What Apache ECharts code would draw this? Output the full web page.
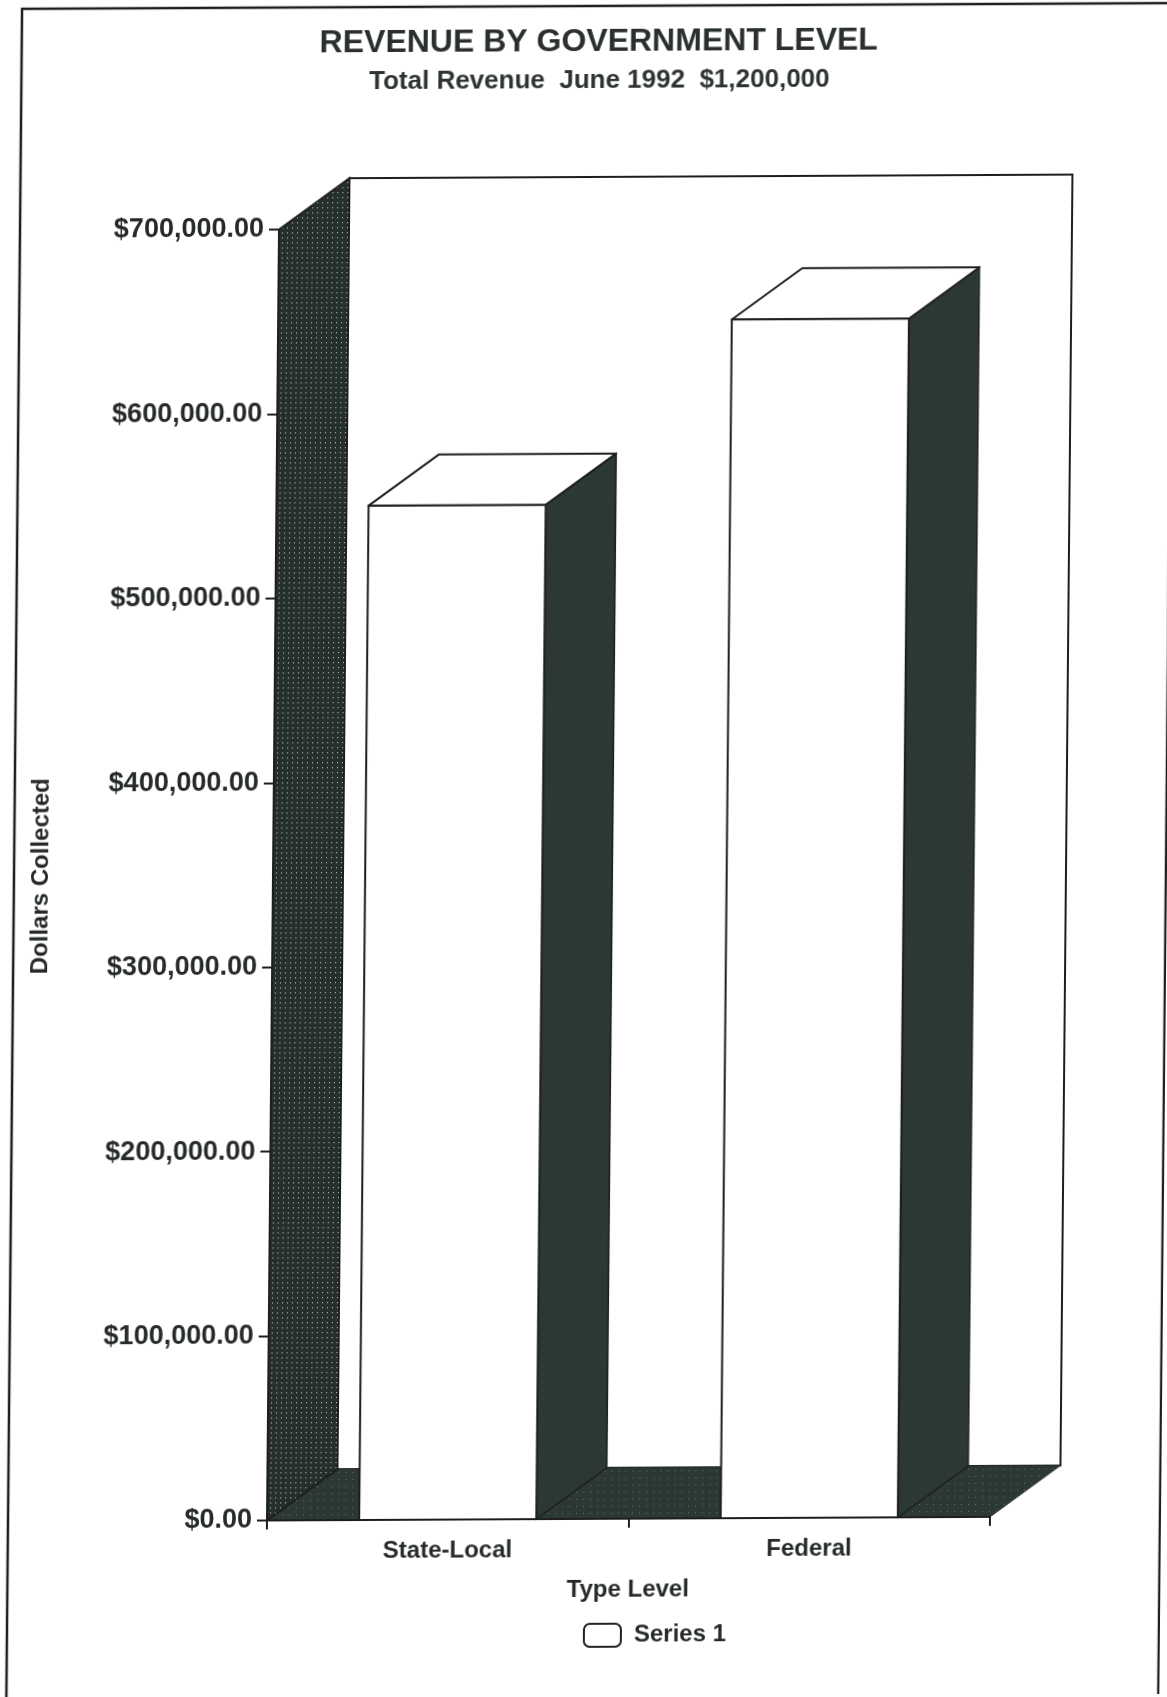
<!DOCTYPE html>
<html>
<head>
<meta charset="utf-8">
<script src="https://cdn.jsdelivr.net/npm/echarts@6/dist/echarts.min.js"></script>
<style>
  html, body { margin: 0; padding: 0; background: #ffffff; overflow: hidden; }
  #chart {
    width: 1167px; height: 1697px;
    /* the scanned reference is slightly skewed; mimic it */
    transform-origin: 583px 873px;
    transform: matrix(1, -0.005, -0.0093, 1, 0, 0);
  }
</style>
</head>
<body>
<div id="chart"></div>
<script>
// ---- data ----
const categories = ['State-Local', 'Federal'];
const revenue = [550000, 650000];
const yMin = 0;
const yMax = 700000;
const yStep = 100000;
const titleText = 'REVENUE BY GOVERNMENT LEVEL';
const subtitleText = 'Total Revenue  June 1992  $1,200,000';
const xAxisName = 'Type Level';
const yAxisName = 'Dollars Collected';
const seriesName = 'Series 1';

// ---- style constants ----
const FONT = '"Liberation Sans", Arial, sans-serif';
const INK = '#262b29';
const DEPTH_X = 70;   // 3D depth offset (px)
const DEPTH_Y = 51;

function makePattern(bg, dot, size) {
  const c = document.createElement('canvas');
  c.width = size; c.height = size;
  const g = c.getContext('2d');
  g.fillStyle = bg; g.fillRect(0, 0, size, size);
  g.fillStyle = dot;
  g.fillRect(1, 1, 1, 1);
  return { image: c, repeat: 'repeat' };
}
const wallPattern = makePattern('#252f2c', '#cfd6d3', 5);
const floorPattern = makePattern('#2c3834', '#66726e', 7);
const sideColor = '#2c3834';

function money(v) {
  const s = Math.round(v).toString().replace(/\B(?=(\d{3})+(?!\d))/g, ',');
  return '$' + s + '.00';
}

const chart = echarts.init(document.getElementById('chart'), null, { renderer: 'canvas' });

const option = {
  backgroundColor: '#ffffff',
  animation: false,
  textStyle: { fontFamily: FONT, color: INK },
  title: [
    {
      text: titleText,
      left: 591, top: 26, textAlign: 'center', padding: 0,
      textStyle: { fontFamily: FONT, fontSize: 32, fontWeight: 'bold', color: '#2a302d' }
    },
    {
      text: subtitleText,
      left: 592, top: 68, textAlign: 'center', padding: 0,
      textStyle: { fontFamily: FONT, fontSize: 26, fontWeight: 'bold', color: '#2e3431' }
    }
  ],
  legend: {
    data: [seriesName],
    left: 590, top: 1623, padding: 0,
    icon: 'roundRect',
    itemWidth: 37, itemHeight: 23,
    itemStyle: { color: '#ffffff', borderColor: '#222222', borderWidth: 2 },
    textStyle: { fontFamily: FONT, fontSize: 24, fontWeight: 'bold', color: INK, padding: [0, 0, 0, 8] }
  },
  grid: { left: 273, top: 228, width: 723, height: 1291, containLabel: false },
  xAxis: {
    type: 'category',
    data: categories,
    z: 10,
    boundaryGap: true,
    name: xAxisName,
    nameLocation: 'middle',
    nameGap: 59,
    nameTextStyle: { fontFamily: FONT, fontSize: 24, fontWeight: 'bold', color: INK },
    axisLine: { lineStyle: { color: '#1e1e1e', width: 2 } },
    axisTick: { show: true, length: 9, lineStyle: { color: '#1e1e1e', width: 2 } },
    axisLabel: { margin: 19, fontFamily: FONT, fontSize: 24, fontWeight: 'bold', color: INK },
    splitLine: { show: false }
  },
  yAxis: {
    type: 'value',
    min: yMin, max: yMax, interval: yStep,
    z: 10,
    name: yAxisName,
    nameLocation: 'middle',
    nameGap: 220,
    nameTextStyle: { fontFamily: FONT, fontSize: 24, fontWeight: 'bold', color: INK },
    axisLine: { show: true, lineStyle: { color: '#1e1e1e', width: 2 } },
    axisTick: { show: true, length: 10, lineStyle: { color: '#1e1e1e', width: 2 } },
    axisLabel: { margin: 15, fontFamily: FONT, fontSize: 27, fontWeight: 'bold', color: INK, formatter: money },
    splitLine: { show: false }
  },
  series: [
    {
      // back wall, side wall and floor of the 3D frame
      type: 'custom',
      name: 'frame',
      silent: true,
      z: 1,
      data: [[0, yMax]],
      renderItem: function (params, api) {
        const cs = params.coordSys;
        const x0 = cs.x, x1 = cs.x + cs.width;
        const yb = api.coord([0, yMin])[1];
        const yt = api.coord([0, yMax])[1];
        return {
          type: 'group',
          children: [
            {
              type: 'rect',
              shape: { x: x0 + DEPTH_X, y: yt - DEPTH_Y, width: x1 - x0, height: yb - yt },
              style: { fill: '#ffffff', stroke: '#1e1e1e', lineWidth: 2 }
            },
            {
              type: 'polygon',
              shape: { points: [[x0, yb], [x1, yb], [x1 + DEPTH_X, yb - DEPTH_Y], [x0 + DEPTH_X, yb - DEPTH_Y]] },
              style: { fill: floorPattern, stroke: '#2a3330', lineWidth: 1 }
            },
            {
              type: 'polygon',
              shape: { points: [[x0, yb], [x0, yt], [x0 + DEPTH_X, yt - DEPTH_Y], [x0 + DEPTH_X, yb - DEPTH_Y]] },
              style: { fill: wallPattern, stroke: '#1e1e1e', lineWidth: 2 }
            }
          ]
        };
      }
    },
    {
      type: 'custom',
      name: seriesName,
      z: 3,
      itemStyle: { color: '#ffffff', borderColor: '#222222', borderWidth: 2 },
      data: revenue.map(function (v, i) { return [i, v]; }),
      encode: { x: 0, y: 1 },
      renderItem: function (params, api) {
        const top = api.coord([api.value(0), api.value(1)]);
        const base = api.coord([api.value(0), 0]);
        const w = api.size([1, 0])[0] * 0.49;
        const l = top[0] - w / 2, r = top[0] + w / 2;
        const yt = top[1], yb = base[1];
        return {
          type: 'group',
          children: [
            {
              type: 'polygon',
              shape: { points: [[r, yt], [r, yb], [r + DEPTH_X, yb - DEPTH_Y], [r + DEPTH_X, yt - DEPTH_Y]] },
              style: { fill: sideColor, stroke: '#1e1e1e', lineWidth: 1.5 }
            },
            {
              type: 'polygon',
              shape: { points: [[l, yt], [r, yt], [r + DEPTH_X, yt - DEPTH_Y], [l + DEPTH_X, yt - DEPTH_Y]] },
              style: { fill: '#ffffff', stroke: '#1e1e1e', lineWidth: 2, lineJoin: 'round' }
            },
            {
              type: 'rect',
              shape: { x: l, y: yt, width: w, height: yb - yt },
              style: { fill: '#ffffff', stroke: '#1e1e1e', lineWidth: 2 }
            }
          ]
        };
      }
    }
  ],
  graphic: [
    {
      type: 'polyline',
      silent: true,
      shape: { points: [[14, 1697], [14, 6], [1166, 6], [1166, 1697]] },
      style: { stroke: '#1e1e1e', lineWidth: 2.5, fill: null }
    }
  ]
};

chart.setOption(option);
</script>
</body>
</html>
